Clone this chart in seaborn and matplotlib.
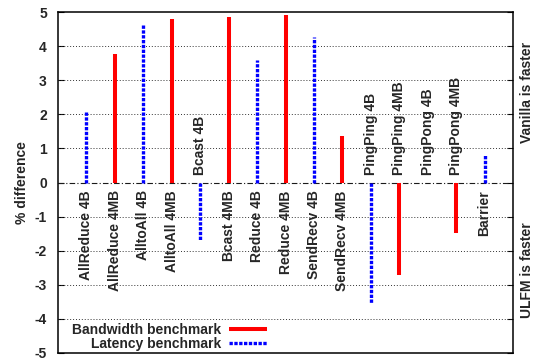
import numpy as np
import pandas as pd
import matplotlib
matplotlib.use("Agg")
import matplotlib.pyplot as plt
from matplotlib.lines import Line2D
import seaborn as sns

# ---- data ----
names = ["AllReduce 4B", "AllReduce 4MB", "AlltoAll 4B", "AlltoAll 4MB",
         "Bcast 4B", "Bcast 4MB", "Reduce 4B", "Reduce 4MB",
         "SendRecv 4B", "SendRecv 4MB", "PingPing 4B", "PingPing 4MB",
         "PingPong 4B", "PingPong 4MB", "Barrier"]
values = [2.07, 3.77, 4.62, 4.80, -1.69, 4.86, 3.58, 4.90,
          4.26, 1.36, -3.54, -2.70, 0.0, -1.49, 0.81]
kinds = ["Latency benchmark", "Bandwidth benchmark"] * 7 + ["Latency benchmark"]
yticks = [-5, -4, -3, -2, -1, 0, 1, 2, 3, 4, 5]

sns.set_style("white")
plt.rcParams['font.family'] = ['Liberation Sans', 'DejaVu Sans']

positions = np.arange(1, len(names) + 1)
rows = []
for n, p, v, k in zip(names, positions, values, kinds):
    rows.append({"name": n, "pos": p, "val": 0.0, "kind": k})
    rows.append({"name": n, "pos": p, "val": v, "kind": k})
df = pd.DataFrame(rows)

fig = plt.figure(figsize=(5.35, 3.62), dpi=100)
ax = fig.add_subplot(111)
fig.subplots_adjust(left=58/535, right=513/535, top=1-12/362, bottom=1-353/362)

# grid
for y in yticks[1:-1]:
    if y == 0:
        continue
    ax.axhline(y, color="0.2", lw=0.7, ls=(0, (1, 2)), zorder=1)
ax.axhline(0, color="0.1", lw=0.8, ls=(0, (5, 2, 1, 2)), zorder=1)

palette = {"Bandwidth benchmark": "#ff0000", "Latency benchmark": "#0000ff"}
dashes = {"Bandwidth benchmark": "", "Latency benchmark": (1, 0.45)}
sizes = {"Bandwidth benchmark": 2.9, "Latency benchmark": 2.4}
sns.lineplot(data=df, x="pos", y="val", hue="kind", style="kind", size="kind",
             units="name", estimator=None, sort=False, palette=palette,
             dashes=dashes, sizes=sizes, legend=False, ax=ax, zorder=3)
for ln in ax.get_lines():
    ln.set_solid_capstyle("butt")
    ln.set_dash_capstyle("butt")

# category labels
off = 0.23
for n, p, v in zip(names, positions, values):
    if v > 0:
        ax.text(p, -off, n, rotation=90, ha="center", va="top",
                fontsize=10, fontweight="bold")
    else:
        ax.text(p, off, n, rotation=90, ha="center", va="bottom",
                fontsize=10, fontweight="bold")

ax.set_xlim(0, len(names) + 1)
ax.set_ylim(-5, 5)
ax.set_yticks(yticks)
ax.set_yticklabels([str(t) for t in yticks], fontsize=10, fontweight="bold")
ax.set_xticks([])
ax.set_xlabel("")
ax.set_ylabel("% difference", fontsize=10, fontweight="bold", labelpad=4)
ax.tick_params(axis="y", direction="in", length=4, width=0.8, left=True,
               right=True, pad=8, color="black")
for s in ax.spines.values():
    s.set_visible(True)
    s.set_color("black")
    s.set_linewidth(1.1)

handles = [Line2D([], [], color="#ff0000", lw=2.9, solid_capstyle="butt"),
           Line2D([], [], color="#0000ff", lw=2.4, dashes=(1, 0.45),
                  dash_capstyle="butt")]
leg = ax.legend(handles, ["Bandwidth benchmark", "Latency benchmark"],
                loc="lower left", bbox_to_anchor=(0.03, 0.005), frameon=False,
                markerfirst=False, handlelength=2.7, handletextpad=0.6,
                labelspacing=0.0, borderpad=0.0, borderaxespad=0.0,
                prop={"weight": "bold", "size": 10})

fig.text(527/535, 0.746, "Vanilla is faster", rotation=90, ha="center",
         va="center", fontsize=10, fontweight="bold")
fig.text(527/535, 0.254, "ULFM is faster", rotation=90, ha="center",
         va="center", fontsize=10, fontweight="bold")

fig.savefig("out.png", dpi=100)
